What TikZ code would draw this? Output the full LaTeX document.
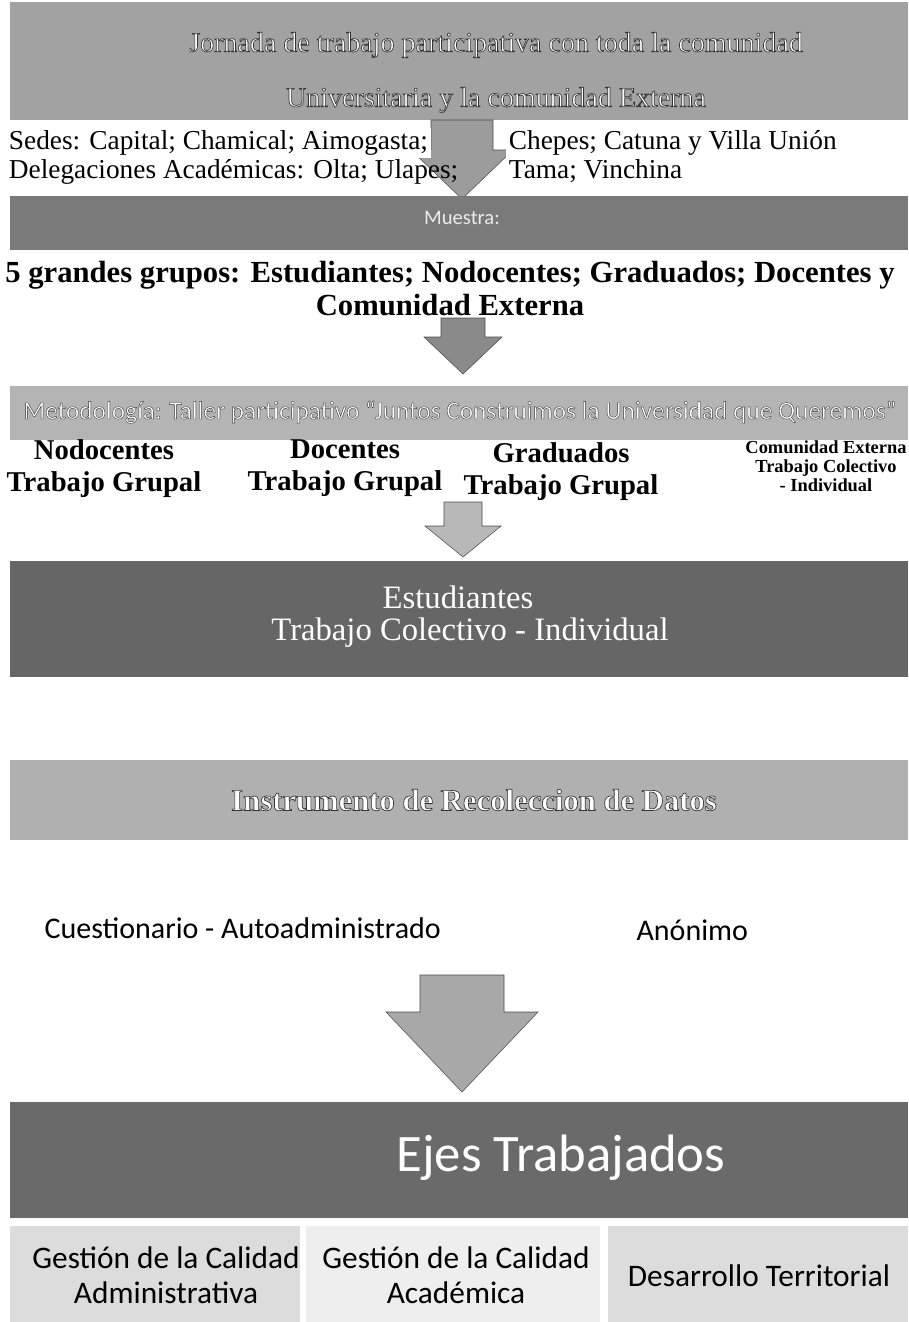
\documentclass[tikz,border=0pt]{standalone}
\usepackage{fontspec}
\setmainfont{Liberation Serif}
\newfontfamily\calib{Carlito}
\definecolor{gA}{HTML}{A2A2A2}
\definecolor{gB}{HTML}{7A7A7A}
\definecolor{gC}{HTML}{B4B4B4}
\definecolor{gD}{HTML}{666666}
\definecolor{gE}{HTML}{B0B0B0}
\definecolor{gF}{HTML}{6A6A6A}
\definecolor{pA}{HTML}{DCDCDC}
\definecolor{pB}{HTML}{EEEEEE}
\definecolor{arA}{HTML}{9C9C9C}
\definecolor{arB}{HTML}{8A8A8A}
\definecolor{arC}{HTML}{B8B8B8}
\definecolor{arD}{HTML}{A8A8A8}
\newcommand{\blockarr}[7]{% color, cx, top, base, tip, half shaft, half head
  \fill[#1, draw=gray!60!black, line width=0.4pt]
    ({#2-#6},#3) -- ({#2+#6},#3) -- ({#2+#6},#4) -- ({#2+#7},#4) -- (#2,#5)
    -- ({#2-#7},#4) -- ({#2-#6},#4) -- cycle;}
\newcommand{\outl}[2]{\special{pdf:literal direct 2 Tr #1 w 0.2 G}#2\special{pdf:literal direct 0 Tr}}
\begin{document}
\begin{tikzpicture}[x=0.75pt,y=-0.75pt,
  banner/.style={inner sep=0pt, minimum width=673.5pt},
  wtext/.style={text=white, inner sep=1pt, align=center},
  plain/.style={inner sep=1pt, align=center, text=black},
  panel/.style={inner sep=0pt},
  ptext/.style={inner sep=1pt, align=center, text=black, font=\calib\fontsize{23.5}{26}\selectfont}]
\useasboundingbox (0,0) rectangle (908,1322);
\fill[white] (0,0) rectangle (908,1322);

% ---- banner 1
\node[banner, fill=gA, minimum height=89pt] (b1) at (459,61) {};
\node[wtext, font=\fontsize{21}{25}\selectfont] (t1a) at (496,45) {\outl{0.5}{Jornada de trabajo participativa con toda la comunidad}};
\node[wtext, font=\fontsize{21}{25}\selectfont] (t1b) at (496,100) {\outl{0.5}{Universitaria y la comunidad Externa}};

% arrow 1
\blockarr{arA}{462}{120}{150}{199}{31}{51}
\node[plain, anchor=west, fill=white, font=\fontsize{20.5}{22}\selectfont, inner sep=2pt] (sedes) at (6,143)
  {Sedes: Capital; Chamical; Aimogasta;};
\node[plain, anchor=west, font=\fontsize{20.5}{22}\selectfont, inner sep=2pt] (deleg) at (6,172)
  {Delegaciones Académicas: Olta; Ulapes;};
\node[plain, anchor=west, fill=white, align=left,
      font=\fontsize{20.5}{21.75}\selectfont, inner sep=2pt] (chepes) at (506,157)
  {Chepes; Catuna y Villa Unión\\Tama; Vinchina};

% ---- banner 2
\node[banner, fill=gB, minimum height=40.5pt] (b2) at (459,223) {};
\node[text=white!92!black, font=\calib\fontsize{15.5}{17}\selectfont] (muestra) at (462,218) {Muestra:};

\node[plain, font=\bfseries\fontsize{23}{24.75}\selectfont] (grupos) at (450,289)
  {5 grandes grupos: Estudiantes; Nodocentes; Graduados; Docentes y\\Comunidad Externa};

% arrow 2
\blockarr{arB}{463}{318}{337}{374}{22}{39}

% ---- banner 3
\node[banner, fill=gC, minimum height=40.5pt] (b3) at (459,413) {};
\node[wtext, font=\calib\fontsize{19}{21}\selectfont] (metod) at (460,412)
  {\outl{0.3}{Metodología: Taller participativo “Juntos Construimos la Universidad que Queremos”}};

\node[plain, font=\bfseries\fontsize{21.5}{24}\selectfont] (nodo) at (104,469) {Nodocentes\\Trabajo Grupal};
\node[plain, font=\bfseries\fontsize{21.5}{24}\selectfont] (doce) at (345,468) {Docentes\\Trabajo Grupal};
\node[plain, font=\bfseries\fontsize{21.5}{24}\selectfont] (grad) at (561,472) {Graduados\\Trabajo Grupal};
\node[plain, font=\bfseries\fontsize{13.8}{14.25}\selectfont] (comu) at (826,466) {Comunidad Externa\\Trabajo Colectivo\\- Individual};

% arrow 3
\blockarr{arC}{463}{502}{526}{557}{19}{38}

% ---- banner 4
\node[banner, fill=gD, minimum height=87pt] (b4) at (459,619) {};
\node[wtext, font=\fontsize{24.5}{27}\selectfont] (t4a) at (458,597) {Estudiantes};
\node[wtext, font=\fontsize{24.5}{27}\selectfont] (t4b) at (470,633) {Trabajo Colectivo - Individual};

% ---- banner 5
\node[banner, fill=gE, minimum height=60pt] (b5) at (459,800) {};
\node[wtext, font=\bfseries\fontsize{23}{25}\selectfont] (t5) at (474,800) {\outl{0.5}{Instrumento de Recoleccion de Datos}};

\node[plain, anchor=west, font=\calib\fontsize{22.5}{25}\selectfont] (cuest) at (43,928) {Cuestionario - Autoadministrado};
\node[plain, anchor=west, font=\calib\fontsize{22.5}{25}\selectfont] (anon) at (635,930) {Anónimo};

% arrow 4
\blockarr{arD}{462}{975}{1012}{1092}{42}{76}

% ---- banner 6
\node[banner, fill=gF, minimum height=87pt] (b6) at (459,1160) {};
\node[wtext, font=\calib\fontsize{39.5}{42}\selectfont] (t6) at (561,1158) {Ejes Trabajados};

% ---- panels
\node[panel, fill=pA, minimum width=217.5pt, minimum height=72pt] (p1) at (155,1274) {};
\node[panel, fill=pB, minimum width=221pt, minimum height=72pt] (p2) at (453,1274) {};
\node[panel, fill=pA, minimum width=225pt, minimum height=72pt] (p3) at (758,1274) {};
\node[ptext] (q1) at (166,1275) {Gestión de la Calidad\\Administrativa};
\node[ptext] (q2) at (456,1275) {Gestión de la Calidad\\Académica};
\node[ptext] (q3) at (759,1276) {Desarrollo Territorial};
\end{tikzpicture}
\end{document}
